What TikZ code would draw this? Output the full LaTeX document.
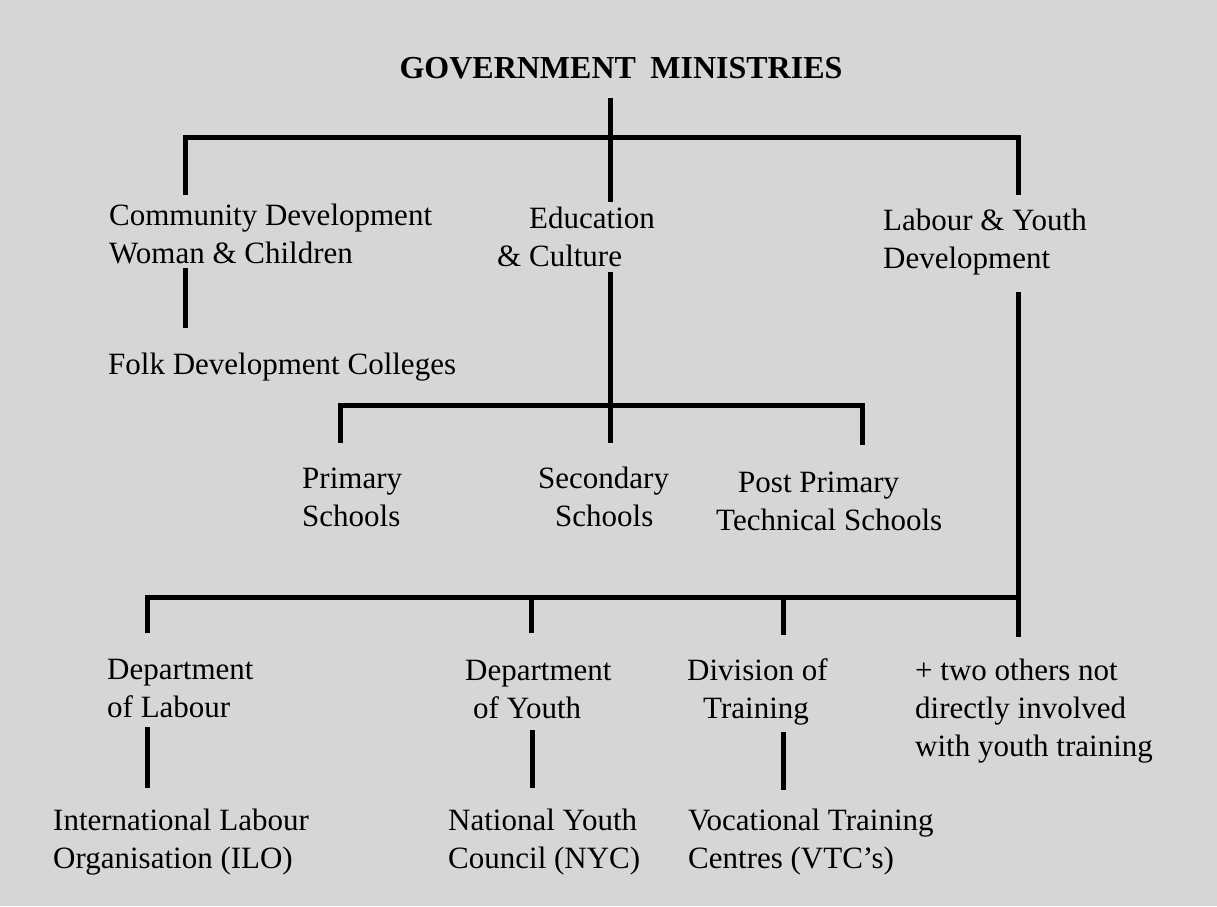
\documentclass[tikz,border=0pt]{standalone}
\usepackage{fontspec}
\setmainfont{Liberation Serif}
\definecolor{bgc}{RGB}{214,214,214}
\begin{document}
\begin{tikzpicture}[x=1pt,y=-1pt,
  lbl/.style={anchor=base west, inner sep=0pt, align=left, font=\fontsize{31}{38}\selectfont},
  conn/.style={line width=5pt, line join=miter}]
\useasboundingbox (0,0) rectangle (1217,906);
\fill[bgc] (0,0) rectangle (1217,906);
% labels (anchor = baseline of the last line)
\node[anchor=base, inner sep=0pt, font=\fontsize{32}{38}\selectfont\bfseries] (gm) at (621,78) {GOVERNMENT\hspace{0.45em}MINISTRIES};
\node[lbl] (cd) at (109,263) {Community Development\\Woman \& Children};
\node[lbl] (edu) at (497,266) {\hspace*{32pt}Education\\\& Culture};
\node[lbl] (lyd) at (883,268) {Labour \& Youth\\Development};
\node[lbl] (folk) at (108,374) {Folk Development Colleges};
\node[lbl] (prim) at (302,526) {Primary\\Schools};
\node[lbl] (sec) at (538,526) {Secondary\\\hspace*{17pt}Schools};
\node[lbl] (ppt) at (716,530) {\hspace*{22pt}Post Primary\\Technical Schools};
\node[lbl] (dol) at (107,717) {Department\\of Labour};
\node[lbl] (doy) at (465,718) {Department\\\hspace*{8pt}of Youth};
\node[lbl] (dot) at (687,718) {Division of\\\hspace*{16pt}Training};
\node[lbl] (oth) at (915,756) {+ two others not\\directly involved\\with youth training};
\node[lbl] (ilo) at (53,868) {International Labour\\Organisation (ILO)};
\node[lbl] (nyc) at (448,868) {National Youth\\Council (NYC)};
\node[lbl] (vtc) at (688,868) {Vocational Training\\Centres (VTC’s)};
% junction coordinates
\coordinate (gmB) at (610,98);
\coordinate (eduT) at (610,202);
\coordinate (barL) at (185,137);
\coordinate (barR) at (1018,137);
\coordinate (cdT) at (185,195);
\coordinate (lydT) at (1018,195);
\coordinate (cdB) at (185,268);
\coordinate (folkT) at (185,328);
\coordinate (eduB) at (610,272);
\coordinate (secT) at (610,443);
\coordinate (sbL) at (340,405);
\coordinate (sbR) at (862,405);
\coordinate (primT) at (340,443);
\coordinate (pptT) at (862,445);
\coordinate (lydB) at (1018,292);
\coordinate (othT) at (1018,637);
\coordinate (bbL) at (147,597);
\coordinate (dolT) at (147,633);
\coordinate (doyT) at (531,633);
\coordinate (dotT) at (783,635);
\coordinate (dolB) at (147,727);
\coordinate (iloT) at (147,788);
\coordinate (doyB) at (532,730);
\coordinate (nycT) at (532,788);
\coordinate (dotB) at (783,732);
\coordinate (vtcT) at (783,790);
% connectors
\draw[conn] (gmB) -- (eduT);
\draw[conn] (cdT) -- (barL) -- (barR) -- (lydT);
\draw[conn] (cdB) -- (folkT);
\draw[conn] (eduB) -- (secT);
\draw[conn] (primT) -- (sbL) -- (sbR) -- (pptT);
\draw[conn] (lydB) -- (othT);
\draw[conn] (dolT) -- (bbL) -- (lydB |- bbL);
\draw[conn] (doyT |- bbL) -- (doyT);
\draw[conn] (dotT |- bbL) -- (dotT);
\draw[conn] (dolB) -- (iloT);
\draw[conn] (doyB) -- (nycT);
\draw[conn] (dotB) -- (vtcT);
\end{tikzpicture}
\end{document}
